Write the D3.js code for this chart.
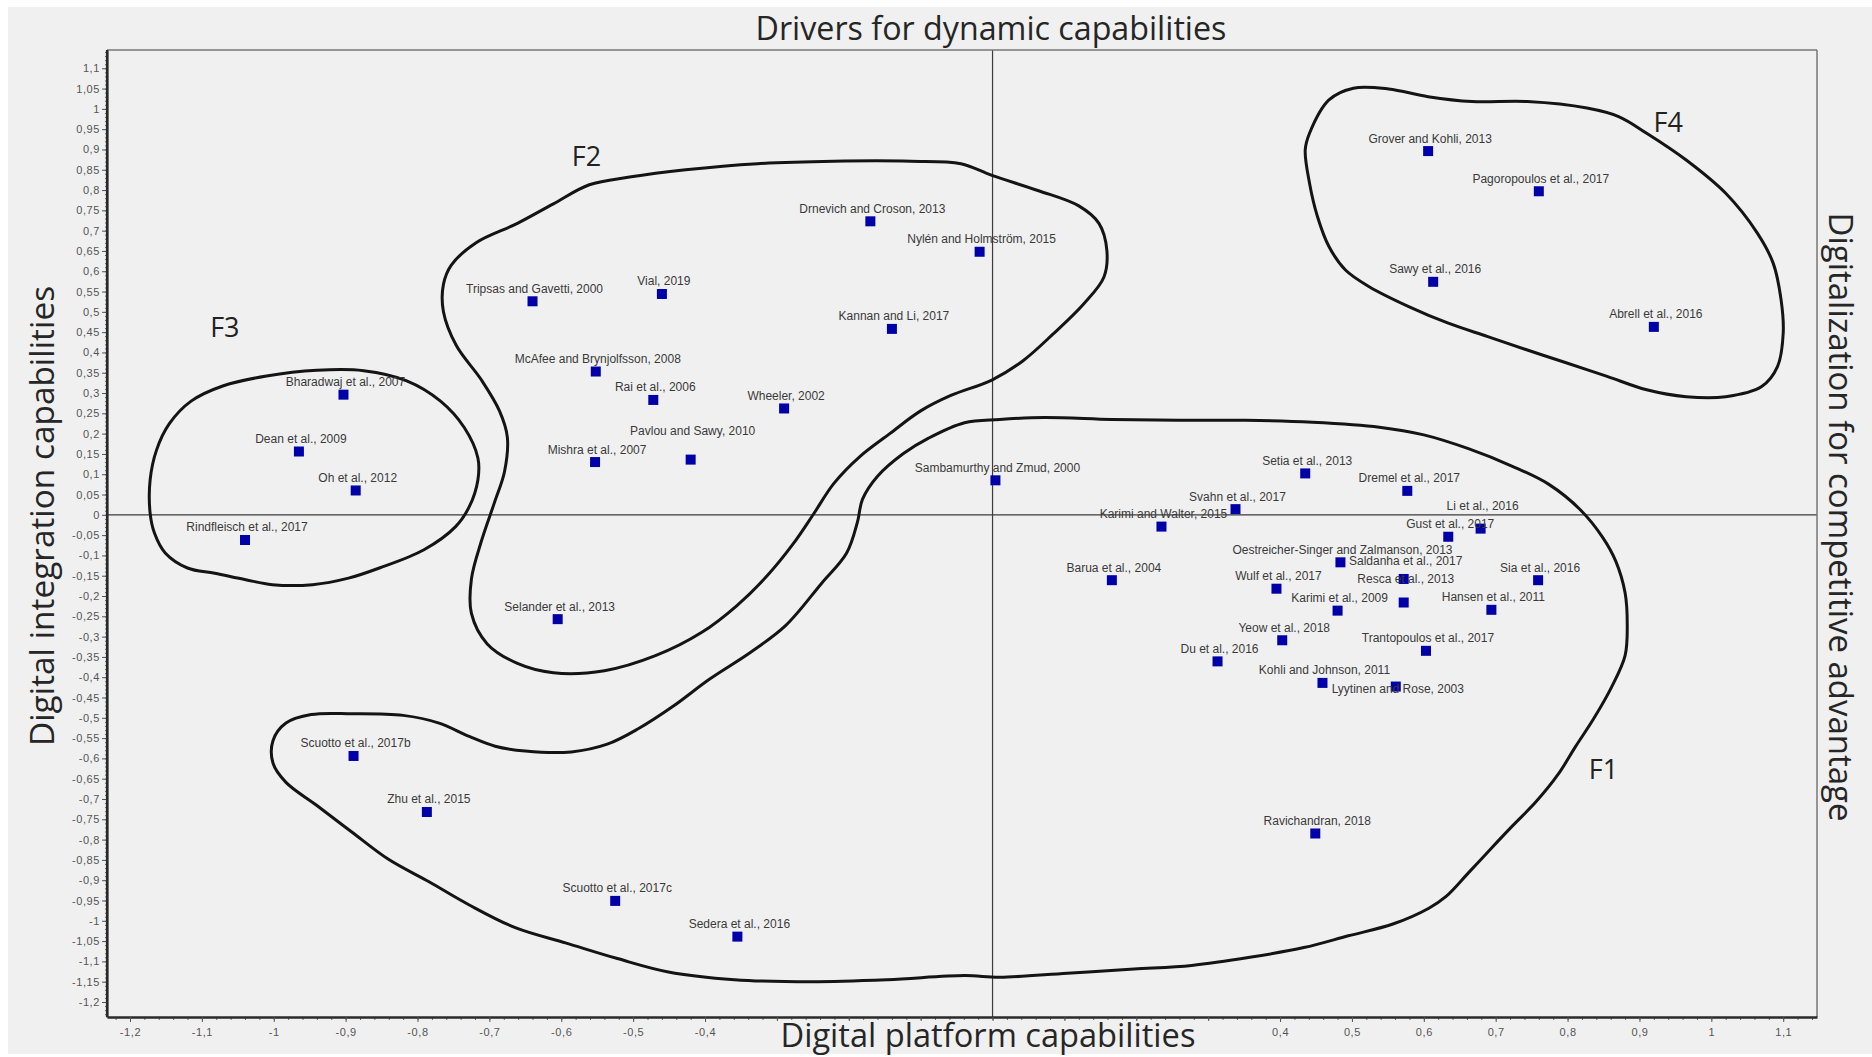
<!DOCTYPE html>
<html>
<head>
<meta charset="utf-8">
<script src="https://cdn.jsdelivr.net/npm/d3@7"></script>
<style>
  html, body { margin: 0; padding: 0; background: #ffffff; }
  svg { display: block; }
</style>
</head>
<body>
<svg id="chart" width="1872" height="1057"></svg>
<script>
// ---------------- DATA ----------------
const studies = [
  "Grover and Kohli, 2013", "Pagoropoulos et al., 2017", "Sawy et al., 2016", "Abrell et al., 2016",
  "Drnevich and Croson, 2013", "Nylén and Holmström, 2015", "Tripsas and Gavetti, 2000", "Vial, 2019",
  "Kannan and Li, 2017", "McAfee and Brynjolfsson, 2008", "Rai et al., 2006", "Wheeler, 2002",
  "Pavlou and Sawy, 2010", "Mishra et al., 2007", "Selander et al., 2013", "Sambamurthy and Zmud, 2000",
  "Bharadwaj et al., 2007", "Dean et al., 2009", "Oh et al., 2012", "Rindfleisch et al., 2017",
  "Scuotto et al., 2017b", "Zhu et al., 2015", "Scuotto et al., 2017c", "Sedera et al., 2016",
  "Setia et al., 2013", "Dremel et al., 2017", "Svahn et al., 2017", "Karimi and Walter, 2015",
  "Li et al., 2016", "Gust et al., 2017", "Oestreicher-Singer and Zalmanson, 2013", "Saldanha et al., 2017",
  "Resca et al., 2013", "Sia et al., 2016", "Barua et al., 2004", "Wulf et al., 2017",
  "Karimi et al., 2009", "Hansen et al., 2011", "Yeow et al., 2018", "Trantopoulos et al., 2017",
  "Du et al., 2016", "Kohli and Johnson, 2011", "Lyytinen and Rose, 2003", "Ravichandran, 2018"
];
// Digital platform capabilities (horizontal)
const platformCapability = [
  0.606, 0.760, 0.613, 0.920,
  -0.170, -0.018, -0.640, -0.460,
  -0.140, -0.552, -0.472, -0.290,
  -0.420, -0.553, -0.605, 0.004,
  -0.903, -0.965, -0.886, -1.040,
  -0.889, -0.787, -0.525, -0.355,
  0.435, 0.577, 0.338, 0.235,
  0.679, 0.634, 0.484, 0.572,
  0.572, 0.759, 0.166, 0.395,
  0.480, 0.694, 0.403, 0.603,
  0.313, 0.459, 0.561, 0.449
];
// Digital integration capabilities (vertical)
const integrationCapability = [
  0.896, 0.797, 0.574, 0.463,
  0.723, 0.648, 0.526, 0.544,
  0.458, 0.353, 0.283, 0.262,
  0.136, 0.130, -0.257, 0.085,
  0.296, 0.156, 0.060, -0.062,
  -0.594, -0.732, -0.951, -1.039,
  0.102, 0.059, 0.014, -0.029,
  -0.034, -0.054, -0.117, -0.158,
  -0.216, -0.161, -0.161, -0.182,
  -0.236, -0.234, -0.309, -0.335,
  -0.361, -0.414, -0.423, -0.785
];

const xTickValues = [-1.2, -1.1, -1, -0.9, -0.8, -0.7, -0.6, -0.5, -0.4, -0.3, -0.2, -0.1, 0,
  0.1, 0.2, 0.3, 0.4, 0.5, 0.6, 0.7, 0.8, 0.9, 1, 1.1];
const yTickValues = [1.1, 1.05, 1, 0.95, 0.9, 0.85, 0.8, 0.75, 0.7, 0.65, 0.6, 0.55, 0.5, 0.45, 0.4,
  0.35, 0.3, 0.25, 0.2, 0.15, 0.1, 0.05, 0, -0.05, -0.1, -0.15, -0.2, -0.25, -0.3, -0.35, -0.4,
  -0.45, -0.5, -0.55, -0.6, -0.65, -0.7, -0.75, -0.8, -0.85, -0.9, -0.95, -1, -1.05, -1.1,
  -1.15, -1.2];

const clusterNames = ["F1", "F2", "F3", "F4"];
const clusterLabelX = [0.850, -0.565, -1.068, 0.940];
const clusterLabelY = [-0.624, 0.884, 0.464, 0.969];

// hand-drawn cluster outlines, in data units [platform, integration]
const contourF1 = [
  [0.010,0.235],[0.072,0.240],[0.166,0.235],[0.259,0.233],[0.352,0.233],[0.445,0.228],[0.538,0.216],
  [0.600,0.197],[0.662,0.163],[0.724,0.119],[0.774,0.075],[0.818,0.012],[0.849,-0.056],[0.867,-0.114],
  [0.880,-0.192],[0.883,-0.270],[0.880,-0.347],[0.861,-0.425],[0.836,-0.503],[0.811,-0.571],[0.787,-0.639],
  [0.756,-0.707],[0.724,-0.765],[0.693,-0.823],[0.662,-0.882],[0.631,-0.940],[0.607,-0.969],[0.557,-1.008],
  [0.495,-1.037],[0.433,-1.066],[0.358,-1.090],[0.277,-1.110],[0.197,-1.119],[0.104,-1.129],[0.010,-1.139],
  [-0.039,-1.135],[-0.146,-1.145],[-0.252,-1.150],[-0.359,-1.145],[-0.451,-1.126],[-0.522,-1.093],
  [-0.593,-1.055],[-0.664,-1.017],[-0.728,-0.961],[-0.784,-0.904],[-0.841,-0.848],[-0.891,-0.782],
  [-0.940,-0.716],[-0.983,-0.659],[-1.001,-0.612],[-1.001,-0.556],[-0.983,-0.513],[-0.948,-0.492],
  [-0.891,-0.490],[-0.820,-0.494],[-0.770,-0.513],[-0.728,-0.546],[-0.692,-0.570],[-0.650,-0.582],
  [-0.586,-0.584],[-0.536,-0.565],[-0.493,-0.527],[-0.444,-0.471],[-0.394,-0.405],[-0.337,-0.339],
  [-0.288,-0.273],[-0.238,-0.169],[-0.203,-0.094],[-0.188,-0.018],[-0.181,0.038],[-0.160,0.095],
  [-0.124,0.151],[-0.089,0.189],[-0.039,0.227]
];
const contourF2 = [
  [-0.753,0.615],[-0.718,0.671],[-0.661,0.718],[-0.611,0.766],[-0.561,0.813],[-0.505,0.832],[-0.427,0.850],
  [-0.327,0.865],[-0.221,0.871],[-0.114,0.871],[-0.044,0.865],[-0.001,0.836],[0.063,0.799],[0.120,0.761],
  [0.148,0.718],[0.159,0.652],[0.155,0.586],[0.127,0.520],[0.084,0.445],[0.042,0.379],[-0.001,0.332],
  [-0.058,0.294],[-0.100,0.256],[-0.143,0.200],[-0.185,0.143],[-0.221,0.077],[-0.249,0.002],[-0.278,-0.073],
  [-0.313,-0.149],[-0.356,-0.224],[-0.405,-0.290],[-0.469,-0.347],[-0.540,-0.384],[-0.611,-0.389],
  [-0.661,-0.366],[-0.703,-0.318],[-0.725,-0.243],[-0.725,-0.158],[-0.711,-0.064],[-0.693,0.030],
  [-0.679,0.106],[-0.675,0.191],[-0.686,0.256],[-0.711,0.332],[-0.746,0.417],[-0.764,0.501],[-0.764,0.567]
];
const contourF3 = [
  [-1.172,0.004],[-1.172,0.086],[-1.163,0.160],[-1.145,0.225],[-1.115,0.280],[-1.070,0.318],[-1.010,0.342],
  [-0.940,0.356],[-0.875,0.355],[-0.815,0.330],[-0.768,0.280],[-0.735,0.215],[-0.716,0.140],[-0.716,0.086],
  [-0.728,0.020],[-0.747,-0.029],[-0.791,-0.086],[-0.853,-0.131],[-0.896,-0.156],[-0.946,-0.172],
  [-1.002,-0.172],[-1.039,-0.160],[-1.082,-0.144],[-1.120,-0.131],[-1.151,-0.094],[-1.166,-0.045]
];
const contourF4 = [
  [0.441,0.940],[0.468,1.022],[0.502,1.051],[0.551,1.049],[0.606,1.030],[0.667,1.018],[0.744,1.018],
  [0.827,1.002],[0.871,0.981],[0.910,0.940],[0.965,0.874],[1.020,0.792],[1.064,0.694],[1.086,0.620],
  [1.097,0.530],[1.100,0.448],[1.092,0.365],[1.070,0.316],[1.020,0.291],[0.965,0.291],[0.910,0.308],
  [0.855,0.341],[0.799,0.374],[0.744,0.406],[0.689,0.439],[0.634,0.472],[0.579,0.513],[0.524,0.562],
  [0.491,0.603],[0.468,0.661],[0.452,0.735],[0.441,0.817],[0.435,0.899]
];

const titleTop = "Drivers for dynamic capabilities";
const titleBottom = "Digital platform capabilities";
const titleLeft = "Digital integration capabilities";
const titleRight = "Digitalization for competitive advantage";

// ---------------- LAYOUT ----------------
const svg = d3.select("#chart");
const W = 1872, H = 1057;
const plot = { left: 107, right: 1817, top: 50, bottom: 1017 };
const BG = "#f0f0f0";

const x = d3.scaleLinear().domain([-1.232, 1.147]).range([plot.left, plot.right]);
const y = d3.scaleLinear().domain([-1.237, 1.145]).range([plot.bottom, plot.top]);

const fmt = v => (Math.abs(v) < 1e-9 ? "0" : String(+v.toFixed(2)).replace(".", ","));

// background
svg.append("rect").attr("x", 0).attr("y", 0).attr("width", W).attr("height", H).attr("fill", "#ffffff");
svg.append("rect").attr("x", 8).attr("y", 7).attr("width", W - 8).attr("height", 1047).attr("fill", BG);

// zero lines
svg.append("line").attr("x1", plot.left).attr("x2", plot.right).attr("y1", y(0)).attr("y2", y(0))
  .attr("stroke", "#3c3c3c").attr("stroke-width", 1.2);
svg.append("line").attr("x1", x(0)).attr("x2", x(0)).attr("y1", plot.top).attr("y2", plot.bottom)
  .attr("stroke", "#3c3c3c").attr("stroke-width", 1.2);

// frame (top/right)
svg.append("line").attr("x1", plot.left).attr("x2", plot.right).attr("y1", plot.top).attr("y2", plot.top)
  .attr("stroke", "#777").attr("stroke-width", 1.5);
svg.append("line").attr("x1", plot.right).attr("x2", plot.right).attr("y1", plot.top).attr("y2", plot.bottom)
  .attr("stroke", "#777").attr("stroke-width", 1.5);

// minor ticks
const yMinor = d3.range(-123, 115, 1).map(d => d / 100);
const xMinor = d3.range(-122, 115, 2).map(d => d / 100);
svg.append("g").attr("transform", `translate(${plot.left},0)`)
  .call(d3.axisLeft(y).tickValues(yMinor).tickSize(2).tickFormat(""))
  .call(g => g.select(".domain").remove())
  .call(g => g.selectAll("line").attr("stroke", "#666"));
svg.append("g").attr("transform", `translate(0,${plot.bottom})`)
  .call(d3.axisBottom(x).tickValues(xMinor).tickSize(3).tickFormat(""))
  .call(g => g.select(".domain").remove())
  .call(g => g.selectAll("line").attr("stroke", "#666"));

// bottom title box (hides the tick labels it covers, as in the original)
const titleBox = { x0: 760, x1: 1225 };

// major axes
const yAxisG = svg.append("g").attr("transform", `translate(${plot.left},0)`)
  .call(d3.axisLeft(y).tickValues(yTickValues).tickFormat(fmt).tickSizeInner(5).tickSizeOuter(0).tickPadding(2));
const xAxisG = svg.append("g").attr("transform", `translate(0,${plot.bottom})`)
  .call(d3.axisBottom(x).tickValues(xTickValues).tickFormat(fmt).tickSizeInner(5).tickSizeOuter(0).tickPadding(6));
xAxisG.selectAll(".tick").filter(d => x(d) > titleBox.x0 - 12 && x(d) < titleBox.x1 + 12)
  .select("text").remove();
[yAxisG, xAxisG].forEach(g => {
  g.selectAll("text").attr("font-family", "'Liberation Sans', Arial, sans-serif").attr("font-size", 11)
    .attr("letter-spacing", 0.6).attr("fill", "#555");
  g.selectAll(".tick line").attr("stroke", "#555");
});
yAxisG.select(".domain").attr("stroke", "#2a2a2a").attr("stroke-width", 2.2);
xAxisG.select(".domain").attr("stroke", "#2a2a2a").attr("stroke-width", 2.6);
svg.append("line").attr("x1", plot.left).attr("x2", plot.left).attr("y1", plot.top).attr("y2", plot.bottom)
  .attr("stroke", "#2a2a2a").attr("stroke-width", 2.2);

// cluster outlines
const outline = d3.line().x(d => x(d[0])).y(d => y(d[1])).curve(d3.curveCatmullRomClosed.alpha(0.5));
[contourF1, contourF2, contourF3, contourF4].forEach(c => {
  svg.append("path").attr("d", outline(c)).attr("fill", "none")
    .attr("stroke", "#141414").attr("stroke-width", 3).attr("stroke-linejoin", "round");
});

// cluster names
svg.append("g").selectAll("text").data(clusterNames).join("text")
  .attr("x", (d, i) => x(clusterLabelX[i]))
  .attr("y", (d, i) => y(clusterLabelY[i]))
  .attr("text-anchor", "middle").attr("dominant-baseline", "central")
  .attr("font-family", "'Open Sans', 'Noto Sans', sans-serif").attr("font-size", 27)
  .attr("fill", "#222").text(d => d);

// points
const pts = studies.map((s, i) => ({ name: s, px: platformCapability[i], py: integrationCapability[i] }));
const labelShift = {
  "Li et al., 2016": -18.5,
  "Saldanha et al., 2017": -13.5,
  "Resca et al., 2013": -19.5,
  "Pavlou and Sawy, 2010": -24.5,
  "Lyytinen and Rose, 2003": 6.5
};
const SQ = 10;
svg.append("g").selectAll("rect").data(pts).join("rect")
  .attr("x", d => x(d.px) - SQ / 2).attr("y", d => y(d.py) - SQ / 2)
  .attr("width", SQ).attr("height", SQ).attr("fill", "#0000a8");
svg.append("g").selectAll("text").data(pts).join("text")
  .attr("x", d => x(d.px) + 2)
  .attr("y", d => y(d.py) + (labelShift[d.name] !== undefined ? labelShift[d.name] : -8.5))
  .attr("text-anchor", "middle")
  .attr("font-family", "'Liberation Sans', Arial, sans-serif").attr("font-size", 12)
  .attr("fill", "#3a3a3a").text(d => d.name);

// titles
function fitText(sel, target) {
  const w = sel.node().getComputedTextLength();
  const fs = parseFloat(sel.attr("font-size"));
  if (w > 0) sel.attr("font-size", (fs * target / w).toFixed(2));
}
const titleFont = "'Open Sans', 'Noto Sans', sans-serif";
const tTop = svg.append("text").attr("x", 991).attr("y", 40).attr("text-anchor", "middle")
  .attr("font-family", titleFont).attr("font-size", 32).attr("fill", "#262626").text(titleTop);
fitText(tTop, 471);

svg.append("rect").attr("x", titleBox.x0).attr("y", 1021).attr("width", titleBox.x1 - titleBox.x0)
  .attr("height", 33).attr("fill", BG);
const tBottom = svg.append("text").attr("x", 988).attr("y", 1047).attr("text-anchor", "middle")
  .attr("font-family", titleFont).attr("font-size", 32).attr("fill", "#262626").text(titleBottom);
fitText(tBottom, 415);

const tLeft = svg.append("text").attr("transform", "translate(54,516) rotate(-90)").attr("text-anchor", "middle")
  .attr("font-family", titleFont).attr("font-size", 32).attr("fill", "#262626").text(titleLeft);
fitText(tLeft, 460);

const tRight = svg.append("text").attr("transform", "translate(1829,517) rotate(90)").attr("text-anchor", "middle")
  .attr("font-family", titleFont).attr("font-size", 32).attr("fill", "#262626").text(titleRight);
fitText(tRight, 609);
</script>
</body>
</html>
